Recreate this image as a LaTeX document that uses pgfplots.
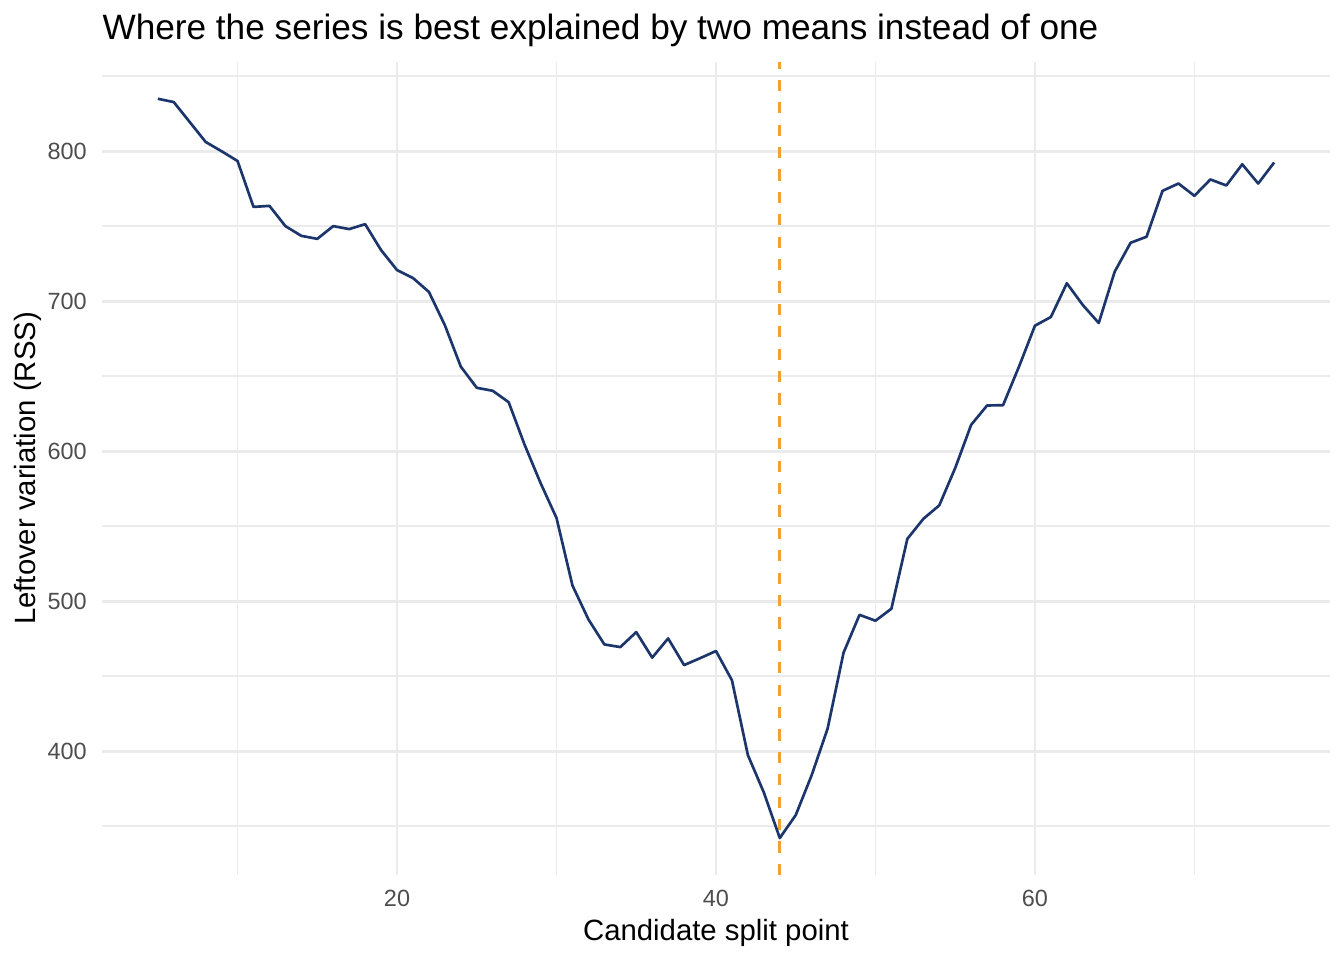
\documentclass[border=0pt]{standalone}
\usepackage{pgfplots}
\pgfplotsset{compat=1.18}
\usepackage{fontspec}
\setmainfont{Liberation Sans}
\definecolor{navy}{RGB}{28,54,108}
\definecolor{orng}{RGB}{243,160,50}
\definecolor{grid92}{RGB}{235,235,235}
\definecolor{grey30}{RGB}{77,77,77}
\begin{document}
\begin{tikzpicture}
\path[use as bounding box] (0,0) rectangle (504pt,360pt);
\begin{axis}[
  at={(38.25pt,31.9pt)}, anchor=south west,
  scale only axis, width=460.5pt, height=304.9pt,
  xmin=1.5, xmax=78.5, ymin=317.5, ymax=859.6,
  xtick={20,40,60}, minor xtick={10,30,50,70},
  ytick={400,500,600,700,800}, minor ytick={350,450,550,650,750,850},
  grid=both,
  major grid style={draw=grid92, line width=1.07pt},
  minor grid style={draw=grid92, line width=0.6pt},
  axis line style={draw=none},
  tick style={draw=none},
  /pgf/number format/assume math mode=true,
  xticklabel style={font=\fontsize{8.8}{10}\selectfont, text=grey30, anchor=base, inner sep=0pt, yshift=-11.9pt},
  yticklabel style={font=\fontsize{8.8}{10}\selectfont, text=grey30, anchor=east, inner sep=0pt, xshift=-5.5pt},
  every axis title shift=0pt,
  title={Where the series is best explained by two means instead of one},
  title style={at={(axis description cs:0,1.02706)}, anchor=base west, inner sep=0pt, font=\fontsize{13.2}{15}\selectfont},
  xlabel={Candidate split point},
  xlabel style={at={(axis description cs:0.5,-0.08003)}, anchor=base, inner sep=0pt, font=\fontsize{11}{13}\selectfont},
  ylabel={Leftover variation (RSS)},
  ylabel style={at={(axis description cs:-0.05375,0.5)}, rotate=0, anchor=base, inner sep=0pt, font=\fontsize{11}{13}\selectfont},
  clip=false,
]
\addplot[orng, line width=1.1pt, dash pattern=on 4.2pt off 4.2pt] coordinates {(44,317.5) (44,859.6)};
\addplot[navy, line width=1pt, line join=round] coordinates {
(5,835.0) (6,832.8) (7,819.5) (8,806.2) (9,800.0) (10,793.5)
(11,762.9) (12,763.6) (13,750.1) (14,743.6) (15,741.6) (16,750.1)
(17,748.1) (18,751.4) (19,734.1) (20,720.8) (21,715.5) (22,706.2)
(23,684.0) (24,656.4) (25,642.3) (26,640.3) (27,632.7) (28,604.3)
(29,578.8) (30,555.5) (31,510.5) (32,487.9) (33,471.2) (34,469.4)
(35,479.4) (36,462.4) (37,475.2) (38,457.4) (39,462.0) (40,466.8)
(41,447.3) (42,397.4) (43,372.5) (44,342.1) (45,357.4) (46,384.0)
(47,415.1) (48,465.7) (49,490.9) (50,487.0) (51,495.0) (52,541.6)
(53,554.9) (54,563.9) (55,588.8) (56,617.6) (57,630.5) (58,630.7)
(59,656.4) (60,683.7) (61,689.5) (62,712.0) (63,697.5) (64,685.5)
(65,719.7) (66,739.0) (67,743.0) (68,773.6) (69,778.5) (70,770.3)
(71,781.2) (72,777.2) (73,791.3) (74,778.5) (75,792.5)
};
\end{axis}
\end{tikzpicture}
\end{document}
